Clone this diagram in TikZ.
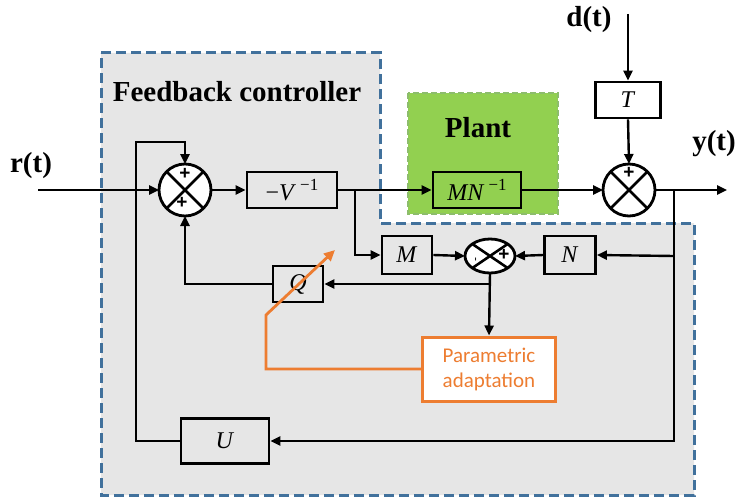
\documentclass[tikz,border=0pt]{standalone}
\usepackage{fontspec}
\setmainfont{Liberation Serif}
\newfontfamily\calib{Carlito}
\newfontfamily\signfont{Liberation Sans}
\usetikzlibrary{arrows.meta,shapes.geometric}
\definecolor{ctrlgray}{RGB}{230,230,230}
\definecolor{ctrlblue}{RGB}{65,113,156}
\definecolor{plantgreen}{RGB}{146,208,80}
\definecolor{plantedge}{RGB}{112,173,71}
\definecolor{adaptorange}{RGB}{237,125,49}
\newcommand{\supm}{\raisebox{0.42em}{\fontsize{17}{17}\selectfont −1}}
\begin{document}
\begin{tikzpicture}[x=1pt,y=-1pt,
  block/.style={draw, line width=2.8pt, inner sep=0pt, font=\fontsize{24}{28}\selectfont},
  sumc/.style={draw, circle, line width=2.8pt, minimum size=52pt, inner sep=0pt, outer sep=0pt, fill=white},
  sume/.style={draw, ellipse, line width=2.8pt, minimum width=50pt, minimum height=34pt, inner sep=0pt, outer sep=0pt, fill=white},
  conn/.style={line width=2.4pt, -{Triangle[length=10pt,width=9pt]}},
  wire/.style={line width=2.4pt},
  cross/.style={line width=2.6pt},
  big/.style={font=\fontsize{29}{32}\selectfont\bfseries, inner sep=0pt},
  sign/.style={font=\signfont\fontsize{19}{19}\selectfont\bfseries, inner sep=0pt},
  orangeline/.style={draw=adaptorange, line width=2.8pt}
]
\useasboundingbox (0,0) rectangle (738,500);
% controller region
\fill[ctrlgray] (101,53) -- (380,53) -- (380,223) -- (694,223) -- (694,495) -- (101,495) -- cycle;
\draw[ctrlblue, line width=3pt, dash pattern=on 10pt off 5pt] (101,53) -- (380,53) -- (380,223) -- (694,223) -- (694,495) -- (101,495) -- cycle;
% plant region
\fill[plantgreen] (408,93) rectangle (558,214);
\draw[plantedge!80!white, line width=2.2pt, dash pattern=on 6pt off 3pt] (408,93) rectangle (558,214);

\node[big] (fc) at (237,92) {Feedback controller};
\node[big] (plant) at (478,128) {Plant};
\node[big] (rt) at (31,166) {r(t)};
\node[big] (dt) at (589,20) {d(t)};
\node[big] (yt) at (714,144) {y(t)};

% blocks
\node[sumc] (s1) at (185,190) {};
\draw[cross] (s1.north west) -- (s1.south east);
\draw[cross] (s1.north east) -- (s1.south west);
\node[sign] (s1p1) at (185,174) {+};
\node[sign] (s1p2) at (182,203) {+};

\node[block, minimum width=90pt, minimum height=36pt] (V) at (292,190) {−\textit{V}\,\supm};
\node[block, minimum width=88pt, minimum height=36pt] (P) at (477,190) {\textit{MN}\,\supm};

\node[sumc] (s2) at (629,190) {};
\draw[cross] (s2.north west) -- (s2.south east);
\draw[cross] (s2.north east) -- (s2.south west);
\node[sign] (s2p) at (629,173) {+};

\node[block, minimum width=65pt, minimum height=36pt] (T) at (628,100) {\textit{T}};

\node[block, minimum width=50pt, minimum height=38pt] (M) at (407,255) {\textit{M}};
\node[block, minimum width=51pt, minimum height=38pt] (N) at (570,255) {\textit{N}};
\node[sume] (e) at (490,256) {};
\draw[cross] (e.north west) -- (e.south east);
\draw[cross] (e.north east) -- (e.south west);
\node[sign] (ep) at (504,255) {+};
\node[sign, rotate=90, font=\signfont\fontsize{12}{12}\selectfont] (em) at (477,259) {-};

\node[block, minimum width=50pt, minimum height=36pt] (Q) at (298,284) {\textit{Q}};
\node[block, minimum width=88pt, minimum height=45pt] (U) at (225,441) {\textit{U}};

\node[draw=adaptorange, line width=3pt, fill=white, minimum width=133pt, minimum height=64pt, inner sep=0pt,
      align=center, text=adaptorange, font=\calib\fontsize{21}{25}\selectfont] (PA) at (489,369) {Parametric\\adaptation};

% coordinates
\coordinate (rin) at (38,190);
\coordinate (yout) at (727,190);
\coordinate (din) at (628,14);
\coordinate (b1) at (355,190);
\coordinate (b2) at (674,190);
\coordinate (b3) at (674,256);
\coordinate (b4) at (490,284);
\coordinate (c1) at (136,142);
\coordinate (o1) at (266,315);
\coordinate (o2) at (335,250);

% connectors
\draw[conn] (rin) -- (s1.west);
\draw[conn] (s1.east) -- (V.west);
\draw[conn] (V.east) -- (P.west);
\draw[conn] (P.east) -- (s2.west);
\draw[conn] (s2.east) -- (yout);
\draw[conn] (din) -- (T.north);
\draw[conn] (T.south) -- (s2.north);
\draw[conn] (b1) |- (M.west);
\draw[conn] (M.east) -- (e.west);
\draw[conn] (b3) -- (N.east);
\draw[conn] (N.west) -- (e.east);
\draw[conn] (e.south) -- (PA.north);
\draw[conn] (b4) -- (Q.east);
\draw[conn] (Q.west) -| (s1.south);
\draw[conn] (b2) |- (U.east);
\draw[wire] (b2) -- (b3);
\draw[conn] (U.west) -| (c1) -| (s1.north);
\draw[orangeline, -{Triangle[length=11pt,width=10pt]}] (PA.west) -| (o1) -- (o2);
\end{tikzpicture}
\end{document}
